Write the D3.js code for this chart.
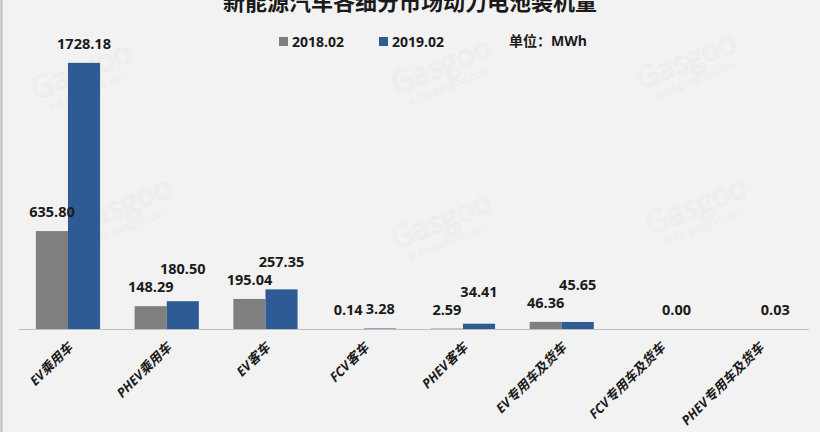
<!DOCTYPE html>
<html><head><meta charset="utf-8">
<script src="https://cdn.jsdelivr.net/npm/d3@7"></script>
<style>
html,body{margin:0;padding:0;background:#f2f2f2;}
svg{display:block;}
text{font-family:"Open Sans","Noto Sans CJK SC",sans-serif;}
</style></head>
<body>
<svg id="chart" width="820" height="432"></svg>
<script>
const categories = ["EV乘用车","PHEV乘用车","EV客车","FCV客车","PHEV客车","EV专用车及货车","FCV专用车及货车","PHEV专用车及货车"];
const seriesNames = ["2018.02","2019.02"];
const values2018 = [635.80, 148.29, 195.04, 0.14, 2.59, 46.36, null, null];
const values2019 = [1728.18, 180.50, 257.35, 3.28, 34.41, 45.65, 0.00, 0.03];
const labels2018 = ["635.80","148.29","195.04","0.14","2.59","46.36",null,null];
const labels2019 = ["1728.18","180.50","257.35","3.28","34.41","45.65","0.00","0.03"];
const colors = ["#7f7f7f","#2f5b94"];
const titleText = "新能源汽车各细分市场动力电池装机量";
const unitText = "单位：MWh";

const W = 820, H = 432;
const svg = d3.select("#chart");
svg.append("rect").attr("width",W).attr("height",H).attr("fill","#f2f2f2");
svg.append("line").attr("x1",1.5).attr("x2",1.5).attr("y1",0).attr("y2",H).attr("stroke","#bcbcbc").attr("stroke-width",2);

// faint watermarks
const wm = [[85,80],[445,75],[690,70],[125,215],[445,230],[700,215]];
wm.forEach(([x,y])=>{
  const g = svg.append("g").attr("transform",`translate(${x},${y}) rotate(-22)`).attr("opacity",0.3);
  g.append("text").attr("text-anchor","middle").attr("font-size",30).attr("fill","none")
    .attr("stroke","#dcdcdc").attr("stroke-width",1).text("Gasgoo");
  g.append("text").attr("text-anchor","middle").attr("y",15).attr("font-size",11).attr("fill","#dcdcdc").text("auto.gasgoo.com");
});

const yBase = 329;
const y = d3.scaleLinear().domain([0,2000]).range([yBase, 21]);
const x = d3.scaleBand().domain(categories).range([18.6, 808.6]).paddingInner(0.35).paddingOuter(0.175);
const x1 = d3.scaleBand().domain(seriesNames).range([0, x.bandwidth()]);

// title
svg.append("text").attr("x",410).attr("y",10).attr("text-anchor","middle")
  .attr("font-family","'Noto Sans CJK SC',sans-serif").attr("font-weight","bold").attr("font-size",22)
  .attr("fill","#1a1a1a").text(titleText);

// bars
const data = categories.map((c,i)=>({c, v:[values2018[i], values2019[i]], l:[labels2018[i], labels2019[i]]}));
const groups = svg.append("g").selectAll("g").data(data).join("g")
  .attr("transform", d=>`translate(${x(d.c)},0)`);
groups.selectAll("rect").data(d=>d.v.map((v,k)=>({v,k}))).join("rect")
  .filter(d=>d.v!=null)
  .attr("x", d=>x1(seriesNames[d.k])).attr("width", x1.bandwidth())
  .attr("y", d=>y(d.v)).attr("height", d=>yBase - y(d.v))
  .attr("fill", d=>colors[d.k]);

// axis
const axis = d3.axisBottom(x).tickSize(0).tickFormat("");
const ax = svg.append("g").attr("transform",`translate(0,${yBase})`).call(axis);
ax.select(".domain").attr("stroke","#bfbfbf").attr("stroke-width",1.2);

// labels with simple collision avoidance
const labelG = svg.append("g").attr("font-weight","bold").attr("font-size",14.5).attr("fill","#1a1a1a");
data.forEach(d=>{
  const pos = [];
  d.v.forEach((v,k)=>{
    if (v==null || d.l[k]==null) return;
    const cx = x(d.c) + x1(seriesNames[k]) + x1.bandwidth()/2;
    let ty = y(v) - 14;
    const w = d.l[k].length*7.8;
    pos.forEach(p=>{
      if (Math.abs(p.cx-cx) < (p.w+w)/2 && Math.abs(p.ty-ty) < 15) ty = p.ty - 18;
    });
    pos.push({cx,ty,w});
    labelG.append("text").attr("x",cx).attr("y",ty).attr("text-anchor","middle").attr("fill","#1a1a1a").text(d.l[k]);
  });
});

// x labels rotated
svg.append("g").selectAll("text").data(categories).join("text")
  .attr("transform", c=>`translate(${x(c)+x.bandwidth()/2-1},${yBase+13}) rotate(-45)`)
  .attr("text-anchor","end").attr("dy","0.7em")
  .attr("font-weight","bold").attr("font-style","italic").attr("font-size",13).attr("fill","#1a1a1a")
  .text(c=>c);

// legend
const leg = svg.append("g").attr("font-weight","bold").attr("font-size",14).attr("fill","#1a1a1a");
const legX = [279, 379];
seriesNames.forEach((s,k)=>{
  leg.append("rect").attr("x",legX[k]).attr("y",37).attr("width",9).attr("height",9).attr("fill",colors[k]);
  leg.append("text").attr("x",legX[k]+13).attr("y",47).attr("fill","#1a1a1a").text(s);
});
leg.append("text").attr("x",509).attr("y",46).attr("fill","#1a1a1a").attr("font-size",14).text(unitText);
</script>
</body></html>
